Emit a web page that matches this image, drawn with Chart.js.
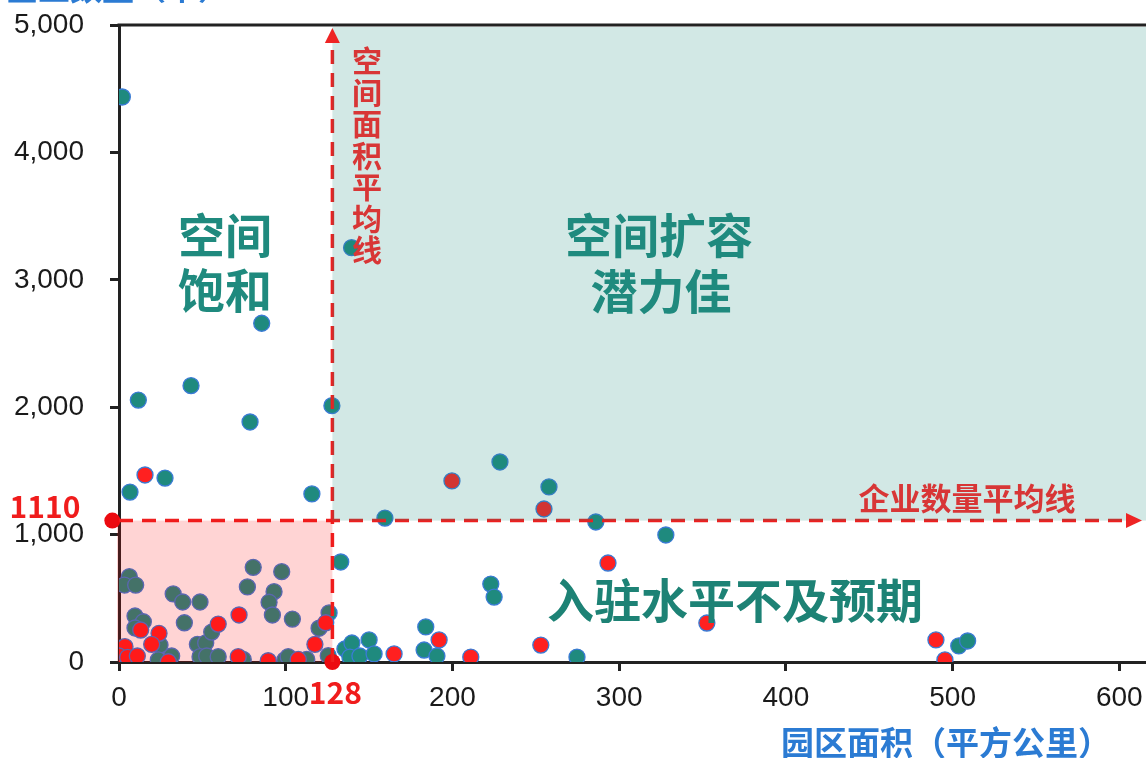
<!DOCTYPE html>
<html>
<head>
<meta charset="utf-8">
<script src="https://cdn.jsdelivr.net/npm/chart.js@4/dist/chart.umd.min.js"></script>
<style>
  html, body { margin: 0; padding: 0; background: #fff; overflow: hidden; }
  canvas { display: block; }
</style>
</head>
<body>
<canvas id="park" width="1146" height="758"></canvas>
<script>
// Axis ticks
const xTickValues = [0, 100, 200, 300, 400, 500, 600];
const yTickValues = [0, 1000, 2000, 3000, 4000, 5000];

// Averages across all parks
const meanArea = 128;   // 平方公里
const meanCount = 1110; // 个

// Parks, group A (teal): area (km²) and number of enterprises
const tealArea = [2, 139.5, 85.6, 11.6, 43.2, 78.6, 127.7, 6.6, 27.6, 115.7,
  159.5, 228.5, 257.9, 286, 328, 133, 223, 225, 503.7, 509,
  274.7, 126, 135.5, 139.7, 138.5, 144.5, 150, 153, 184, 183,
  190.7, 125.5, 6.2, 3.2, 10, 32.5, 38.2, 48.6, 9.6, 14.6,
  9.6, 39.2, 24.6, 47, 52, 55.6, 80.5, 97.6, 77, 93,
  90, 92, 104, 120, 0.6, 7, 23.6, 31.6, 48.6, 52.6,
  59.5, 74.5, 99.5, 101.5, 112.6, 0];
const tealCount = [4435, 3252, 2659, 2056, 2169, 1884, 2012, 1334, 1444, 1319,
  1130, 1570, 1374, 1099, 997, 785, 612, 510, 126, 165,
  39, 385, 102, 149, 39, 47, 173, 63, 275, 94,
  47, 50, 670, 604, 604, 534, 471, 471, 361, 316,
  267, 308, 133, 139, 150, 235, 743, 709, 589, 552,
  469, 369, 337, 265, 107, 16, 16, 47, 42, 47,
  42, 21, 16, 42, 21, 90];

// Parks, group B (red): area (km²) and number of enterprises
const redArea = [15.6, 199.7, 254.9, 293.3, 352.6, 490, 495.4, 124, 165, 192,
  211, 253, 13, 24, 19.6, 0, 3.6, 0, 5.2, 11,
  29.6, 59.5, 72, 71.5, 89.5, 107.5, 117.5];
const redCount = [1468, 1421, 1201, 777, 306, 173, 16, 308, 63, 173,
  39, 133, 251, 225, 139, 102, 120, 47, 37, 47,
  2, 298, 369, 42, 10, 21, 139];

// Marker dots for the two averages (on the y axis and on the x axis)
const markerArea = [-4, meanArea];
const markerCount = [meanCount, 0];

const toPoints = (xs, ys) => xs.map((v, i) => ({ x: v, y: ys[i] }));

const CJK = '"Noto Sans CJK SC", "Noto Sans", sans-serif';
const LATIN = '"Liberation Sans", Arial, sans-serif';
const TEAL = '#1f8a7e';
const LABEL_RED = '#d83636';
const BLUE = '#2b7bd3';

function drawText(ctx, s, x, y, font, color, align) {
  ctx.font = font;
  ctx.fillStyle = color;
  ctx.textAlign = align || 'center';
  ctx.textBaseline = 'middle';
  ctx.fillText(s, x, y);
}

// keep the plot area flush with the canvas edges given by layout padding
function noEdgePadding(s) {
  s.paddingTop = 0; s.paddingBottom = 0; s.paddingLeft = 0; s.paddingRight = 0;
}

const quadrantPlugin = {
  id: 'quadrants',
  afterDraw(chart) {
    const { ctx, chartArea: a, scales: { x, y } } = chart;
    const mx = x.getPixelForValue(meanArea);
    const my = y.getPixelForValue(meanCount);
    const y0 = y.getPixelForValue(0);
    const yTop = y.getPixelForValue(5000);
    ctx.save();

    // top frame line
    ctx.strokeStyle = '#222';
    ctx.lineWidth = 3;
    ctx.beginPath();
    ctx.moveTo(a.left - 1.5, a.top);
    ctx.lineTo(a.right, a.top);
    ctx.stroke();

    // dashed average lines
    ctx.setLineDash([14, 9]);
    ctx.lineWidth = 3.5;
    ctx.strokeStyle = '#ee1f1f';
    ctx.beginPath();
    ctx.moveTo(mx, y0);
    ctx.lineTo(mx, yTop + 16);
    ctx.stroke();
    ctx.beginPath();
    ctx.moveTo(a.left, my);
    ctx.lineTo(a.right - 18, my);
    ctx.stroke();
    ctx.setLineDash([]);

    // quadrant shading
    ctx.fillStyle = 'rgba(31,138,126,0.2)';
    ctx.fillRect(mx, yTop + 2, a.right - mx, my - yTop - 2);
    ctx.fillStyle = 'rgba(255,0,0,0.17)';
    ctx.fillRect(a.left - 2, my, mx - a.left + 2, y0 - my);

    // arrowheads
    ctx.fillStyle = '#ee2424';
    ctx.beginPath();
    ctx.moveTo(mx, yTop + 3);
    ctx.lineTo(mx - 7.5, yTop + 18);
    ctx.lineTo(mx + 7.5, yTop + 18);
    ctx.closePath();
    ctx.fill();
    ctx.beginPath();
    ctx.moveTo(a.right - 4, my);
    ctx.lineTo(a.right - 20, my - 7.5);
    ctx.lineTo(a.right - 20, my + 7.5);
    ctx.closePath();
    ctx.fill();

    // average line captions
    const vText = '空间面积平均线';
    for (let i = 0; i < vText.length; i++) {
      drawText(ctx, vText[i], 367, 61 + i * 31.5, `bold 30px ${CJK}`, LABEL_RED);
    }
    drawText(ctx, '企业数量平均线', 967, my - 22, `bold 31px ${CJK}`, LABEL_RED);
    drawText(ctx, String(meanCount), 45, my - 14, `bold 30px ${CJK}`, '#f01c1c');
    drawText(ctx, String(meanArea), mx + 3, y0 + 31, `bold 30px ${CJK}`, '#f01c1c');

    // quadrant captions
    const big = `bold 47px ${CJK}`;
    drawText(ctx, '空间', 225, 235, big, TEAL);
    drawText(ctx, '饱和', 225, 290, big, TEAL);
    drawText(ctx, '空间扩容', 659, 235, big, TEAL);
    drawText(ctx, '潜力佳', 661, 291, big, TEAL);
    drawText(ctx, '入驻水平不及预期', 735, 600, big, '#1d8275');

    // axis titles
    drawText(ctx, '园区面积（平方公里）', 946, 742, `bold 33px ${CJK}`, BLUE);
    ctx.font = `bold 32px ${CJK}`;
    ctx.fillStyle = BLUE;
    ctx.textAlign = 'center';
    ctx.textBaseline = 'alphabetic';
    ctx.fillText('企业数量（个）', 118, 0);

    ctx.restore();
  }
};

const pointBase = { pointRadius: 8, pointHoverRadius: 8, pointBorderWidth: 1.3, pointBorderColor: '#3a7bd5', showLine: false };

new Chart(document.getElementById('park'), {
  type: 'scatter',
  data: {
    datasets: [
      {
        label: '平均值',
        data: toPoints(markerArea, markerCount),
        pointRadius: 8, pointHoverRadius: 8, pointBorderWidth: 0,
        pointBackgroundColor: '#ec0a10',
        clip: false
      },
      Object.assign({ label: 'B', data: toPoints(redArea, redCount), pointBackgroundColor: '#ff2020' }, pointBase),
      Object.assign({ label: 'A', data: toPoints(tealArea, tealCount), pointBackgroundColor: TEAL }, pointBase)
    ]
  },
  options: {
    responsive: false,
    animation: false,
    devicePixelRatio: 1,
    layout: { autoPadding: false, padding: { top: 25, right: 0, left: 0, bottom: 0 } },
    plugins: { legend: { display: false }, tooltip: { enabled: false } },
    scales: {
      x: {
        type: 'linear', min: 0, max: 616,
        afterBuildTicks: s => { s.ticks = xTickValues.map(v => ({ value: v })); },
        afterFit: s => { s.height = 96; noEdgePadding(s); },
        grid: { display: true, drawOnChartArea: false, drawTicks: true, tickLength: 9, tickWidth: 3, tickColor: '#222' },
        border: { display: true, color: '#222', width: 3 },
        ticks: { font: { family: LATIN, size: 28 }, color: '#1a1a1a', padding: 10, maxRotation: 0, autoSkip: false }
      },
      y: {
        type: 'linear', min: 0, max: 5000,
        afterBuildTicks: s => { s.ticks = yTickValues.map(v => ({ value: v })); },
        afterFit: s => { s.width = 119; noEdgePadding(s); },
        grid: { display: true, drawOnChartArea: false, drawTicks: true, tickLength: 9, tickWidth: 3, tickColor: '#222' },
        border: { display: true, color: '#222', width: 3 },
        ticks: { font: { family: LATIN, size: 28 }, color: '#1a1a1a', padding: 26, autoSkip: false,
          callback: v => Number(v).toLocaleString('en-US') }
      }
    }
  },
  plugins: [quadrantPlugin]
});
</script>
</body>
</html>
